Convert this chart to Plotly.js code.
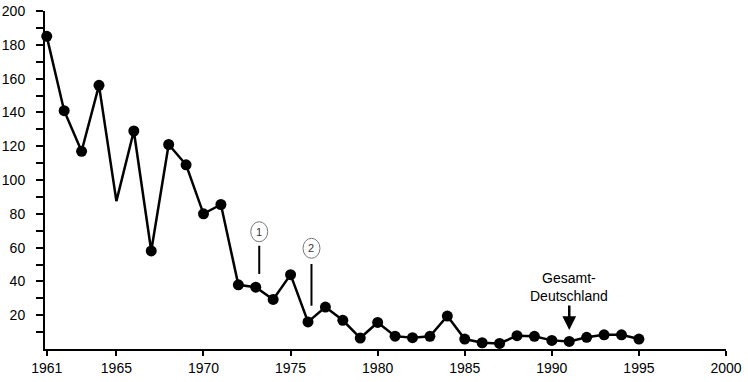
<!DOCTYPE html>
<html>
<head>
<meta charset="utf-8">
<script src="https://cdn.plot.ly/plotly-3.0.1.min.js"></script>
<style>html,body{margin:0;padding:0;background:#fff;}#chart{width:748px;height:382px;}</style>
</head>
<body>
<div id="chart"></div>
<script>
const years = [1961,1962,1963,1964,1965,1966,1967,1968,1969,1970,1971,1972,1973,1974,1975,1976,1977,1978,1979,1980,1981,1982,1983,1984,1985,1986,1987,1988,1989,1990,1991,1992,1993,1994,1995];
const values = [185,141,117,156,87.5,129,58,121,109,80,85.5,38,36.6,29.3,44,16,24.8,17,6.5,15.7,7.6,6.7,7.5,19.5,5.9,3.7,3.3,7.9,7.5,5.1,4.5,6.9,8.4,8.4,5.9];
const noMarkerYears = [1965];
const xTickVals = [1961,1965,1970,1975,1980,1985,1990,1995,2000];
const xTickText = ['1961','1965','1970','1975','1980','1985','1990','1995','2000'];
const yTickVals = [10,20,30,40,50,60,70,80,90,100,110,120,130,140,150,160,170,180,190,200];
const yTickText = ['','20','','40','','60','','80','','100','','120','','140','','160','','180','','200'];
const notes = [
  {label:'1', year:1973.2, circleY:69.4, lineTop:61.1, lineBottom:44.4},
  {label:'2', year:1976.2, circleY:59.6, lineTop:50.3, lineBottom:25.6}
];
const arrowNote = {text:'Gesamt-<br>Deutschland', year:1991, y:11.2};

const font = 'Arial, "Liberation Sans", sans-serif';

const traces = [
  {x: years, y: values, mode:'lines', line:{color:'#000', width:2.5}, hoverinfo:'skip', cliponaxis:false},
  {x: years, y: values.map((v,i)=> noMarkerYears.includes(years[i]) ? null : v), mode:'markers',
   marker:{color:'#000', size:11}, cliponaxis:false}
];

const shapes = [];
const annotations = [];
notes.forEach(n => {
  shapes.push({type:'circle', xref:'x', yref:'y', xsizemode:'pixel', ysizemode:'pixel',
    xanchor:n.year, yanchor:n.circleY, x0:-8.5, x1:8.5, y0:-10, y1:10,
    line:{color:'#777', width:1}, fillcolor:'rgba(0,0,0,0)'});
  shapes.push({type:'line', xref:'x', yref:'y', x0:n.year, x1:n.year, y0:n.lineTop, y1:n.lineBottom,
    line:{color:'#000', width:2}});
  annotations.push({x:n.year, y:n.circleY, xref:'x', yref:'y', text:n.label, showarrow:false,
    font:{family:font, size:11, color:'#333'}});
});
annotations.push({x:arrowNote.year, y:arrowNote.y, xref:'x', yref:'y', text:'', showarrow:true,
  ax:0, ay:-26, arrowhead:2, arrowsize:1.1, arrowwidth:2.5, arrowcolor:'#000'});
annotations.push({x:arrowNote.year, y:arrowNote.y, xref:'x', yref:'y', text:arrowNote.text, showarrow:false,
  yshift:43, font:{family:font, size:14, color:'#000'}, align:'center'});

const layout = {
  width:748, height:382,
  margin:{l:45, r:22, t:11, b:33},
  paper_bgcolor:'#fff', plot_bgcolor:'#fff',
  showlegend:false,
  font:{family:font, size:14, color:'#000'},
  xaxis:{range:[1960.9, 2000], tickmode:'array', tickvals:xTickVals, ticktext:xTickText,
    showline:true, linecolor:'#000', linewidth:2, ticks:'outside', ticklen:5, tickwidth:2, tickcolor:'#000',
    showgrid:false, zeroline:false, tickfont:{family:font, size:14, color:'#000'}},
  yaxis:{range:[0,200], tickmode:'array', tickvals:yTickVals, ticktext:yTickText,
    showline:true, linecolor:'#000', linewidth:2, ticks:'outside', ticklen:7, tickwidth:2, tickcolor:'#000',
    showgrid:false, zeroline:false, ticklabelstandoff:8, tickfont:{family:font, size:14, color:'#000'}},
  shapes: shapes,
  annotations: annotations
};

Plotly.newPlot('chart', traces, layout, {staticPlot:true, displayModeBar:false});
</script>
</body>
</html>
